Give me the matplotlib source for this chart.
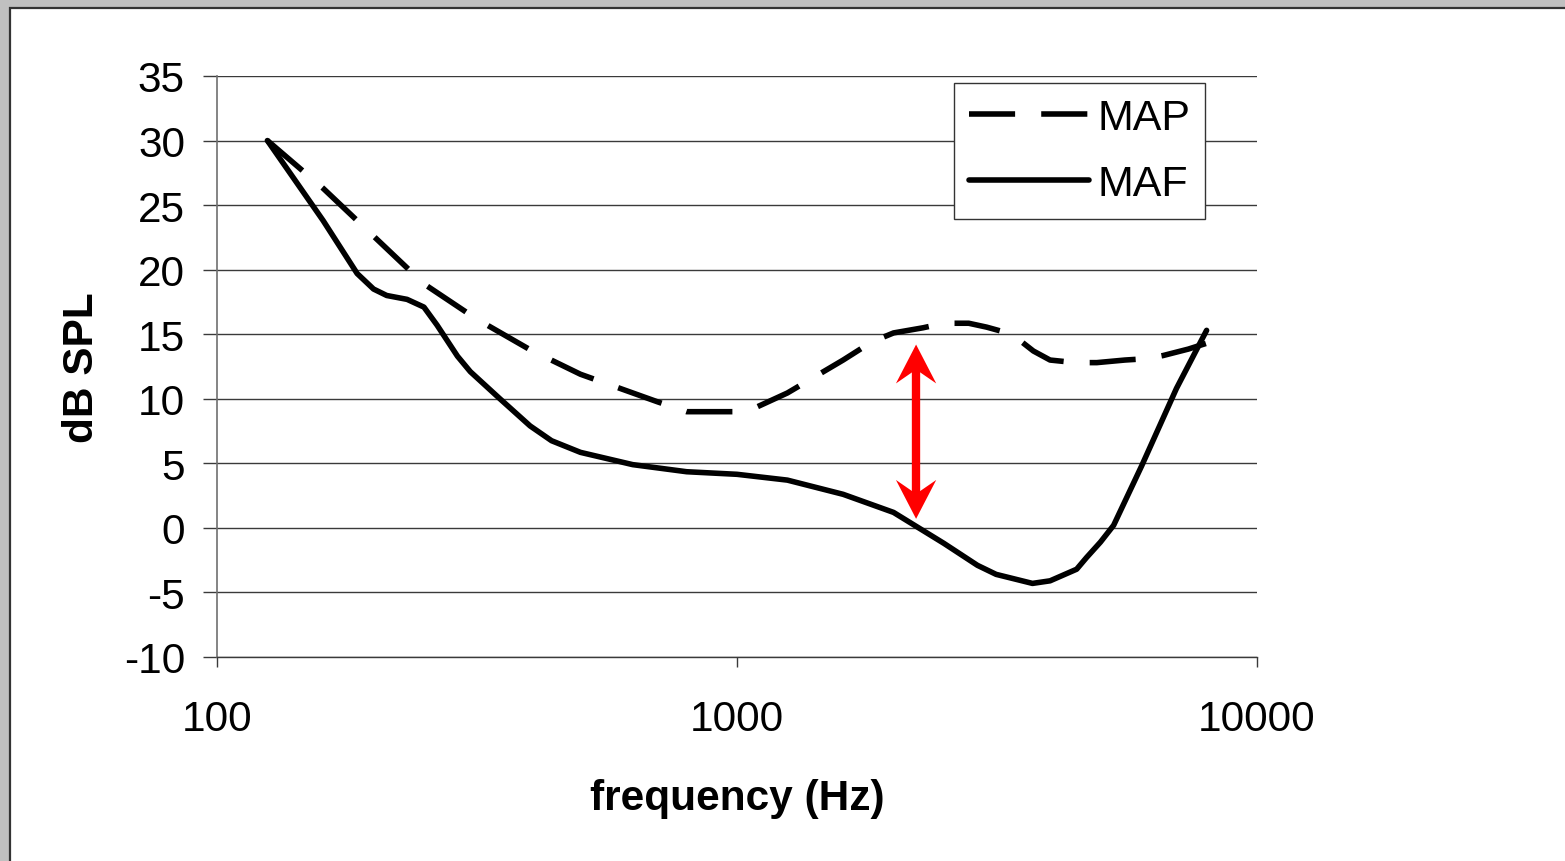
import matplotlib
matplotlib.use("Agg")
import matplotlib.pyplot as plt
import matplotlib.transforms as mtransforms
from matplotlib.patches import Rectangle, Polygon
from matplotlib.lines import Line2D

plt.rcParams['font.family'] = ['Liberation Sans', 'DejaVu Sans']

# ---- data ----
maf_freq = [125, 160, 186, 200, 212, 232, 250, 265, 290, 307, 350, 400, 440, 500,
            630, 800, 1000, 1250, 1600, 2000, 2500, 2900, 3150, 3700, 4000, 4500,
            4700, 5000, 5300, 6000, 7000, 8000]
maf_db = [30, 23.8, 19.7, 18.5, 18.0, 17.7, 17.1, 15.7, 13.3, 12.1, 10.0, 7.9, 6.75, 5.85,
          4.9, 4.35, 4.15, 3.7, 2.6, 1.2, -1.2, -2.9, -3.6, -4.3, -4.1, -3.2,
          -2.3, -1.1, 0.2, 4.8, 10.8, 15.3]

map_freq = [125, 160, 250, 315, 400, 500, 705, 800, 930, 1010, 1090, 1250, 1600, 1815,
            2000, 2280, 2500, 2790, 3020, 3280, 3530, 3715, 4000, 4470, 4920, 5570,
            6100, 6600, 7380, 8000]
map_db = [30, 26.3, 18.9, 16.2, 13.8, 11.9, 9.75, 9.0, 9.0, 9.0, 9.35, 10.45, 13.0, 14.4,
          15.1, 15.5, 15.85, 15.85, 15.55, 15.15, 14.4, 13.7, 13.0, 12.8, 12.8, 13.0,
          13.1, 13.35, 13.85, 14.3]

arrow_freq = 2210
arrow_top = 14.2
arrow_bottom = 0.7

y_ticks = [35, 30, 25, 20, 15, 10, 5, 0, -5, -10]
x_ticks = [100, 1000, 10000]
x_ticklabels = ['100', '1000', '10000']

# ---- figure ----
W, H = 1565, 862
fig = plt.figure(figsize=(W / 100, H / 100), dpi=100)
fig.patch.set_facecolor('#c0c0c0')
fig.patches.append(Rectangle((10 / W, -0.01), 1.02, 1 - 9 / H + 0.01,
                             transform=fig.transFigure, facecolor='white',
                             edgecolor='#333333', linewidth=1.6, zorder=-10))

ax = fig.add_axes([217 / W, 1 - 658 / H, (1257 - 217) / W, (658 - 77) / H])
ax.set_zorder(5)
ax.set_facecolor('none')
ax.set_xscale('log')
ax.set_xlim(100, 10000)
ax.set_ylim(-10, 35)

for y in y_ticks:
    ax.axhline(y, color='#3a3a3a', lw=1.0, zorder=1)

lw = 4.0
dash = (0, (8.3, 4.7))
ax.plot(map_freq, map_db, color='black', lw=lw, linestyle=dash,
        dash_capstyle='butt', zorder=3, label='MAP')
ax.plot(maf_freq, maf_db, color='black', lw=lw, solid_capstyle='round',
        solid_joinstyle='round', zorder=3, label='MAF')

# red double arrow: shaft + two concave heads (head shape in points)
red = '#ff0000'
ax.plot([arrow_freq, arrow_freq], [arrow_bottom + 2.0, arrow_top - 2.0],
        color=red, lw=6.0, solid_capstyle='butt', zorder=4)
head_pts = [(0, 0), (14.5, -28), (2.9, -20), (-2.9, -20), (-14.5, -28)]
pt2px = mtransforms.Affine2D().scale(fig.dpi / 72.0)
for tip, sign in ((arrow_top, 1), (arrow_bottom, -1)):
    pts = [(x, sign * y) for x, y in head_pts]
    tr = pt2px + mtransforms.ScaledTranslation(arrow_freq, tip, ax.transData)
    ax.add_patch(Polygon(pts, closed=True, facecolor=red, edgecolor='none',
                         transform=tr, zorder=4))

for s in ['top', 'right']:
    ax.spines[s].set_visible(False)
ax.spines['left'].set_color('#707070')
ax.spines['left'].set_linewidth(1.2)
ax.spines['bottom'].set_color('#3a3a3a')
ax.spines['bottom'].set_linewidth(1.0)

fs = 30.5
ax.set_yticks(y_ticks)
ax.set_yticklabels([str(v) for v in y_ticks])
ax.set_xticks(x_ticks)
ax.set_xticklabels(x_ticklabels)
ax.xaxis.set_minor_locator(matplotlib.ticker.NullLocator())
ax.tick_params(axis='y', length=10, width=1.0, color='#3a3a3a', pad=13, labelsize=fs)
ax.tick_params(axis='x', length=7, width=1.0, color='#3a3a3a', pad=23, labelsize=fs)

ax.set_xlabel('frequency (Hz)', fontsize=fs, fontweight='bold', labelpad=28)
ax.set_ylabel('dB SPL', fontsize=fs, fontweight='bold', labelpad=16)

handles = [Line2D([], [], color='black', lw=lw, linestyle=dash, dash_capstyle='butt'),
           Line2D([], [], color='black', lw=lw, solid_capstyle='round')]
leg = ax.legend(handles, ['MAP', 'MAF'], loc='upper left',
                bbox_to_anchor=(954 / W, 1 - 84 / H), bbox_transform=fig.transFigure,
                fontsize=31, frameon=True, fancybox=False, shadow=False,
                borderaxespad=0, borderpad=0.34, handlelength=2.8, handletextpad=0.2,
                labelspacing=0.62, framealpha=1)
leg.get_frame().set_edgecolor('#333333')
leg.get_frame().set_linewidth(1.0)

fig.savefig('out.png', dpi=100, facecolor=fig.get_facecolor())
